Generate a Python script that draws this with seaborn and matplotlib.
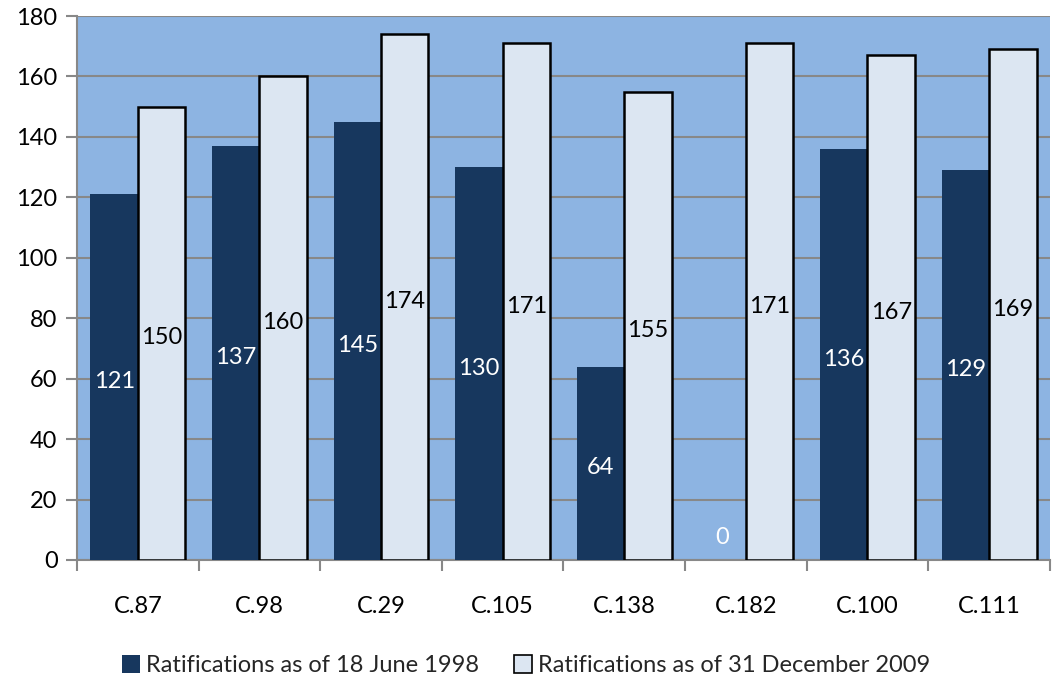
import matplotlib
matplotlib.use("Agg")
import matplotlib.pyplot as plt
import seaborn as sns
import pandas as pd
import numpy as np
from matplotlib.patches import Patch

conventions = ["C.87", "C.98", "C.29", "C.105", "C.138", "C.182", "C.100", "C.111"]
ratif_1998 = [121, 137, 145, 130, 64, 0, 136, 129]
ratif_2009 = [150, 160, 174, 171, 155, 171, 167, 169]
series_names = ["Ratifications as of 18 June 1998", "Ratifications as of 31 December 2009"]
y_ticks = [0, 20, 40, 60, 80, 100, 120, 140, 160, 180]

dark = "#17375E"
light = "#DCE6F2"
plot_bg = "#8DB4E2"
grid_c = "#888888"

sns.set_theme(style="white")
plt.rcParams["font.family"] = ["Lato", "DejaVu Sans"]

df = pd.DataFrame({
    "conv": conventions * 2,
    "value": ratif_1998 + ratif_2009,
    "series": [series_names[0]] * len(conventions) + [series_names[1]] * len(conventions),
})

fig = plt.figure(figsize=(10.52, 6.81), dpi=100)
ax = fig.add_axes([0.0732, 0.1777, 0.9248, 0.7988])
ax.set_facecolor(plot_bg)

sns.barplot(data=df, x="conv", y="value", hue="series", order=conventions,
            hue_order=series_names, palette=[dark, light], width=0.78,
            saturation=1, ax=ax, legend=False, zorder=3)

n = len(conventions)
patches = ax.patches[:2 * n]
for i, p in enumerate(patches):
    if i < n:
        p.set_edgecolor("none")
    else:
        p.set_edgecolor("black")
        p.set_linewidth(1.8)

# value labels centred in each bar
for i, p in enumerate(patches):
    v = p.get_height()
    xc = p.get_x() + p.get_width() / 2
    yc = v / 2 if v > 0 else 9
    color = "white" if i < n else "black"
    ax.text(xc, yc - 1.5, f"{int(round(v))}", ha="center", va="center",
            fontsize=17, color=color, zorder=5)

ax.set_ylim(0, 180)
ax.set_xlim(-0.5, n - 0.5)
ax.set_yticks(y_ticks)
ax.yaxis.grid(True, color=grid_c, linewidth=1.5, zorder=0)
ax.set_axisbelow(True)
ax.set_xlabel("")
ax.set_ylabel("")

for s in ["top", "right"]:
    ax.spines[s].set_visible(False)
for s in ["left", "bottom"]:
    ax.spines[s].set_color(grid_c)
    ax.spines[s].set_linewidth(1.5)

ax.tick_params(axis="y", which="major", length=8, width=1.5, color=grid_c,
               labelsize=17, pad=6, left=True, direction="out", labelcolor="black")
ax.tick_params(axis="x", which="major", length=0, labelsize=17, pad=26, labelcolor="black")
ax.set_xticks(np.arange(-0.5, n, 1.0), minor=True)
ax.tick_params(axis="x", which="minor", length=8, width=1.5, color=grid_c,
               bottom=True, direction="out")

handles = [Patch(facecolor=dark, edgecolor="none"),
           Patch(facecolor=light, edgecolor="black", linewidth=1.2)]
fig.legend(handles, series_names, loc="center", bbox_to_anchor=(0.5, 0.023),
           ncol=2, frameon=False, fontsize=17, handlelength=0.75, handleheight=0.8,
           handletextpad=0.25, columnspacing=1.5)

fig.savefig("out.png", dpi=100, facecolor="white")
